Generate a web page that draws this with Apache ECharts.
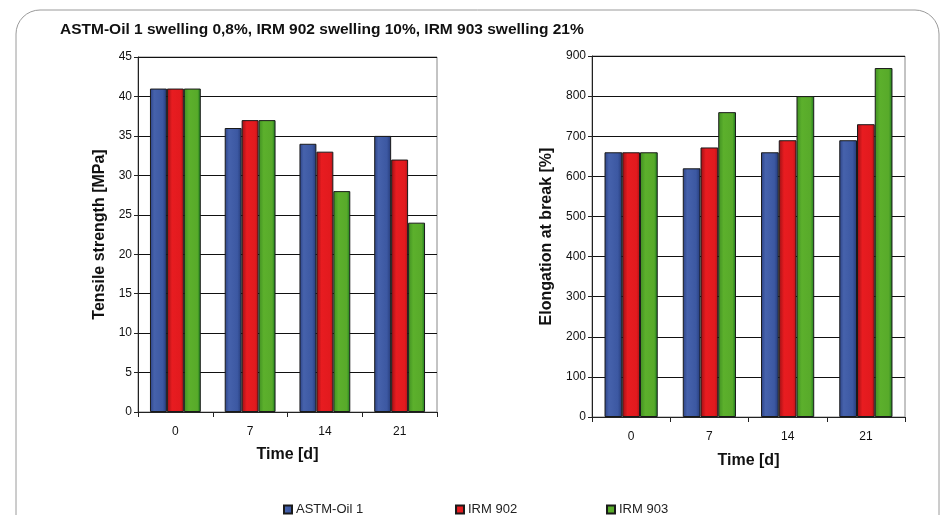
<!DOCTYPE html>
<html><head><meta charset="utf-8">
<script src="https://cdn.jsdelivr.net/npm/echarts@6/dist/echarts.min.js"></script>
<style>html,body{margin:0;padding:0;background:#fff}#c{width:949px;height:515px}</style>
</head><body><div id="c"></div>
<script>
const categories = ['0', '7', '14', '21'];
const seriesNames = ['ASTM-Oil 1', 'IRM 902', 'IRM 903'];
const tensileAstm = [41, 36, 34, 35];
const tensileIrm902 = [41, 37, 33, 32];
const tensileIrm903 = [41, 37, 28, 24];
const elongAstm = [660, 620, 660, 690];
const elongIrm902 = [660, 672, 690, 730];
const elongIrm903 = [660, 760, 800, 870];
const titleText = 'ASTM-Oil 1 swelling 0,8%, IRM 902 swelling 10%, IRM 903 swelling 21%';

const G = echarts.graphic.LinearGradient;
const fills = [
  new G(0,0,1,0,[{offset:0,color:'#2c4284'},{offset:0.25,color:'#4662ac'},{offset:0.75,color:'#3c58a2'},{offset:1,color:'#243a78'}]),
  new G(0,0,1,0,[{offset:0,color:'#9a1015'},{offset:0.3,color:'#e81c20'},{offset:0.8,color:'#e21a1e'},{offset:1,color:'#b01418'}]),
  new G(0,0,1,0,[{offset:0,color:'#3f8f22'},{offset:0.3,color:'#5cb02c'},{offset:0.8,color:'#58aa2a'},{offset:1,color:'#16781e'}])
];
const font = 'Liberation Sans, Arial, sans-serif';

function mkSeries(name, data, idx, axisIdx) {
  return {
    type: 'bar', name: name, data: data,
    xAxisIndex: axisIdx, yAxisIndex: axisIdx,
    barGap: '0%', barCategoryGap: '32%',
    itemStyle: { color: fills[idx], borderColor: '#1a1a1a', borderWidth: 1 },
    emphasis: { disabled: true }
  };
}

const yAxisCommon = {
  type: 'value', min: 0, nameLocation: 'middle',
  nameTextStyle: { fontFamily: font, fontWeight: 'bold', fontSize: 16, color: '#111' },
  axisLine: { show: true, lineStyle: { color: '#222', width: 1 } },
  axisTick: { show: true, length: 4, lineStyle: { color: '#222' } },
  axisLabel: { fontFamily: font, fontSize: 12, color: '#111', margin: 6 },
  splitLine: { show: true, lineStyle: { color: '#111', width: 1 } }
};
const xAxisCommon = {
  type: 'category', data: categories, name: 'Time [d]', nameLocation: 'middle',
  nameTextStyle: { fontFamily: font, fontWeight: 'bold', fontSize: 16, color: '#111', verticalAlign: 'top' },
  axisLine: { show: true, lineStyle: { color: '#222', width: 1 } },
  axisTick: { show: true, length: 5, lineStyle: { color: '#222' } },
  axisLabel: { fontFamily: font, fontSize: 12, color: '#111', margin: 14 }
};

function legendAt(name, left) {
  return {
    data: [name], left: left, top: 498, itemWidth: 8, itemHeight: 8, itemGap: 5,
    icon: 'rect', selectedMode: false,
    textStyle: { fontFamily: font, fontSize: 13, color: '#222', padding: [0,0,0,-1] }
  };
}

const option = {
  animation: false,
  backgroundColor: '#fff',
  title: { text: titleText, left: 55, top: 17,
    textStyle: { fontFamily: font, fontWeight: 'bold', fontSize: 15.5, color: '#111' } },
  graphic: [{
    type: 'rect', silent: true,
    shape: { x: 16, y: 10, width: 923, height: 560, r: 24 },
    style: { fill: 'none', stroke: '#9a9a9a', lineWidth: 1 }
  }],
  legend: [ legendAt(seriesNames[0], 278), legendAt(seriesNames[1], 450), legendAt(seriesNames[2], 601) ],
  grid: [
    { left: 138, right: 512, top: 57, bottom: 103, show: true, borderColor: '#888', borderWidth: 1 },
    { left: 592, right: 44, top: 56, bottom: 98, show: true, borderColor: '#888', borderWidth: 1 }
  ],
  xAxis: [
    Object.assign({}, xAxisCommon, { gridIndex: 0, nameGap: 35 }),
    Object.assign({}, xAxisCommon, { gridIndex: 1, nameGap: 36 })
  ],
  yAxis: [
    Object.assign({}, yAxisCommon, { gridIndex: 0, max: 45, interval: 5, name: 'Tensile strength [MPa]', nameGap: 30 }),
    Object.assign({}, yAxisCommon, { gridIndex: 1, max: 900, interval: 100, name: 'Elongation at break [%]', nameGap: 37 })
  ],
  series: [
    mkSeries(seriesNames[0], tensileAstm, 0, 0),
    mkSeries(seriesNames[1], tensileIrm902, 1, 0),
    mkSeries(seriesNames[2], tensileIrm903, 2, 0),
    mkSeries(seriesNames[0], elongAstm, 0, 1),
    mkSeries(seriesNames[1], elongIrm902, 1, 1),
    mkSeries(seriesNames[2], elongIrm903, 2, 1)
  ]
};
echarts.init(document.getElementById('c')).setOption(option);
</script></body></html>
